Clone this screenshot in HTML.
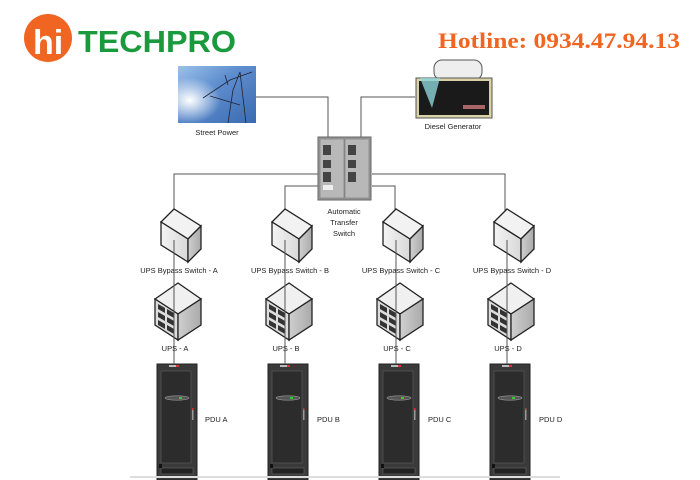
<!DOCTYPE html>
<html><head><meta charset="utf-8"><style>
html,body{margin:0;padding:0;background:#fff}
svg{display:block}
</style></head><body>
<svg width="700" height="480" viewBox="0 0 700 480" xmlns="http://www.w3.org/2000/svg">
<defs>
<linearGradient id="sky" x1="0" y1="0" x2="1" y2="1"><stop offset="0" stop-color="#9cc2ea"/><stop offset="0.4" stop-color="#5f8fcf"/><stop offset="1" stop-color="#3a6ab0"/></linearGradient>
<radialGradient id="sun" cx="0.15" cy="0.6" r="0.4"><stop offset="0" stop-color="#fff"/><stop offset="1" stop-color="#fff" stop-opacity="0"/></radialGradient>
<linearGradient id="lf" x1="0" y1="0" x2="1" y2="0"><stop offset="0" stop-color="#f4f4f4"/><stop offset="1" stop-color="#d8d8d8"/></linearGradient>
<linearGradient id="rf" x1="0" y1="0" x2="1" y2="0"><stop offset="0" stop-color="#cfcfcf"/><stop offset="1" stop-color="#aaa"/></linearGradient>
<g id="byp">
<polygon points="0,13 13,0 40,17 27,30" fill="#f2f2f2" stroke="#222" stroke-width="1.3"/>
<polygon points="0,13 27,30 27,53 0,36" fill="url(#lf)" stroke="#222" stroke-width="1.3"/>
<polygon points="27,30 40,17 40,40 27,53" fill="url(#rf)" stroke="#222" stroke-width="1.3"/>
</g>
<g id="ups">
<polygon points="0,16 23,0 46,16 23,31" fill="#f0f0f0" stroke="#222" stroke-width="1.3"/>
<polygon points="0,16 23,31 23,57 0,42" fill="#ddd" stroke="#222" stroke-width="1.3"/>
<polygon points="23,31 46,16 46,42 23,57" fill="url(#rf)" stroke="#222" stroke-width="1.3"/>
<polygon points="3,21 10,25 10,30 3,26" fill="#333"/><polygon points="12,26 19,30 19,35 12,31" fill="#333"/>
<polygon points="3,29 10,33 10,38 3,34" fill="#333"/><polygon points="12,34 19,38 19,43 12,39" fill="#333"/>
<polygon points="3,37 10,41 10,46 3,42" fill="#333"/><polygon points="12,42 19,46 19,51 12,47" fill="#333"/>
</g>
<g id="rack">
<rect x="0" y="0" width="40" height="116" fill="#3a3a3a" stroke="#222"/>
<rect x="4" y="7" width="30" height="92" fill="#2c2c2c" stroke="#555" stroke-width="0.8"/>
<rect x="12" y="1" width="10" height="2" fill="#bbb"/><rect x="19" y="1" width="3" height="2" fill="#d33"/>
<ellipse cx="20" cy="34" rx="12" ry="2.2" fill="#555" stroke="#999" stroke-width="0.6"/>
<rect x="22" y="33" width="3" height="2" fill="#3c3"/>
<rect x="35" y="46" width="1.5" height="10" fill="#999"/><rect x="35" y="44" width="1.5" height="2" fill="#d33"/>
<rect x="4" y="104" width="32" height="6" fill="#222" stroke="#666" stroke-width="0.6"/>
<rect x="2" y="100" width="3" height="4" fill="#111"/>
</g>
</defs>

<circle cx="48" cy="38" r="24" fill="#f16522"/>
<text x="33" y="54" font-family="Liberation Sans, sans-serif" font-size="34" font-weight="bold" fill="#fff">hi</text>
<text x="78" y="52" font-family="Liberation Sans, sans-serif" font-size="31" font-weight="bold" fill="#1a9a3c" textLength="158" lengthAdjust="spacingAndGlyphs">TECHPRO</text>
<text x="438" y="48" font-family="Liberation Serif, serif" font-size="22" font-weight="bold" fill="#f16522" textLength="242" lengthAdjust="spacingAndGlyphs">Hotline: 0934.47.94.13</text>

<g stroke="#555" stroke-width="1" fill="none">
<polyline points="256,97 328,97 328,138"/>
<polyline points="415,97 361,97 361,138"/>
<polyline points="318,174 174,174 174,222"/>
<polyline points="372,174 505,174 505,222"/>
<polyline points="318,186 285,186 285,222"/>
<polyline points="372,186 395,186 395,222"/>
</g>

<rect x="178" y="66" width="78" height="57" fill="url(#sky)"/>
<rect x="178" y="66" width="78" height="57" fill="url(#sun)"/>
<g stroke="#223" stroke-width="0.8" fill="none">
<polyline points="203,98 230,80 252,72"/><polyline points="228,123 233,90 240,72 246,123"/><line x1="210" y1="96" x2="240" y2="105"/><line x1="225" y1="75" x2="228" y2="85"/>
</g>
<text x="217" y="135" font-family="Liberation Sans, sans-serif" font-size="7.5" text-anchor="middle" fill="#222">Street Power</text>

<rect x="434" y="60" width="48" height="20" rx="8" fill="#eee" stroke="#555"/>
<rect x="416" y="78" width="76" height="40" fill="#d9d2a8" stroke="#555"/>
<rect x="419" y="81" width="70" height="34" fill="#1a1a1a"/>
<polygon points="420,78 440,78 432,108" fill="#8cd3d8" opacity="0.8"/>
<rect x="463" y="105" width="22" height="4" fill="#a66"/>
<text x="453" y="129" font-family="Liberation Sans, sans-serif" font-size="7.5" text-anchor="middle" fill="#222">Diesel Generator</text>

<rect x="318" y="137" width="53" height="63" fill="#9a9a9a" stroke="#666"/>
<rect x="320" y="139" width="24" height="59" fill="#b8b8b8" stroke="#777" stroke-width="0.6"/>
<rect x="345" y="139" width="24" height="59" fill="#b8b8b8" stroke="#777" stroke-width="0.6"/>
<g fill="#444"><rect x="323" y="145" width="8" height="10"/><rect x="348" y="145" width="8" height="10"/><rect x="323" y="160" width="8" height="8"/><rect x="348" y="160" width="8" height="8"/><rect x="323" y="172" width="8" height="10"/><rect x="348" y="172" width="8" height="10"/></g>
<rect x="323" y="185" width="10" height="5" fill="#eee"/>
<text font-family="Liberation Sans, sans-serif" font-size="7.5" text-anchor="middle" fill="#222"><tspan x="344" y="214">Automatic</tspan><tspan x="344" y="225">Transfer</tspan><tspan x="344" y="236">Switch</tspan></text>

<g font-family="Liberation Sans, sans-serif" font-size="7.5" fill="#222" text-anchor="middle">
<g>
<use href="#byp" x="161" y="209"/><use href="#ups" x="155" y="283"/><use href="#rack" x="157" y="364"/>
<line x1="174" y1="240" x2="174" y2="364" stroke="#555"/>
<text x="179" y="273">UPS Bypass Switch - A</text><text x="175" y="351">UPS - A</text><text x="205" y="422" text-anchor="start">PDU A</text>
</g>
<g transform="translate(111,0)">
<use href="#byp" x="161" y="209"/><use href="#ups" x="155" y="283"/><use href="#rack" x="157" y="364"/>
<line x1="174" y1="240" x2="174" y2="364" stroke="#555"/>
<text x="179" y="273">UPS Bypass Switch - B</text><text x="175" y="351">UPS - B</text><text x="206" y="422" text-anchor="start">PDU B</text>
</g>
<g transform="translate(222,0)">
<use href="#byp" x="161" y="209"/><use href="#ups" x="155" y="283"/><use href="#rack" x="157" y="364"/>
<line x1="174" y1="240" x2="174" y2="364" stroke="#555"/>
<text x="179" y="273">UPS Bypass Switch - C</text><text x="175" y="351">UPS - C</text><text x="206" y="422" text-anchor="start">PDU C</text>
</g>
<g transform="translate(333,0)">
<use href="#byp" x="161" y="209"/><use href="#ups" x="155" y="283"/><use href="#rack" x="157" y="364"/>
<line x1="174" y1="240" x2="174" y2="364" stroke="#555"/>
<text x="179" y="273">UPS Bypass Switch - D</text><text x="175" y="351">UPS - D</text><text x="206" y="422" text-anchor="start">PDU D</text>
</g>
</g>
<line x1="130" y1="477" x2="560" y2="477" stroke="#ddd" stroke-width="2"/>
</svg>
</body></html>
